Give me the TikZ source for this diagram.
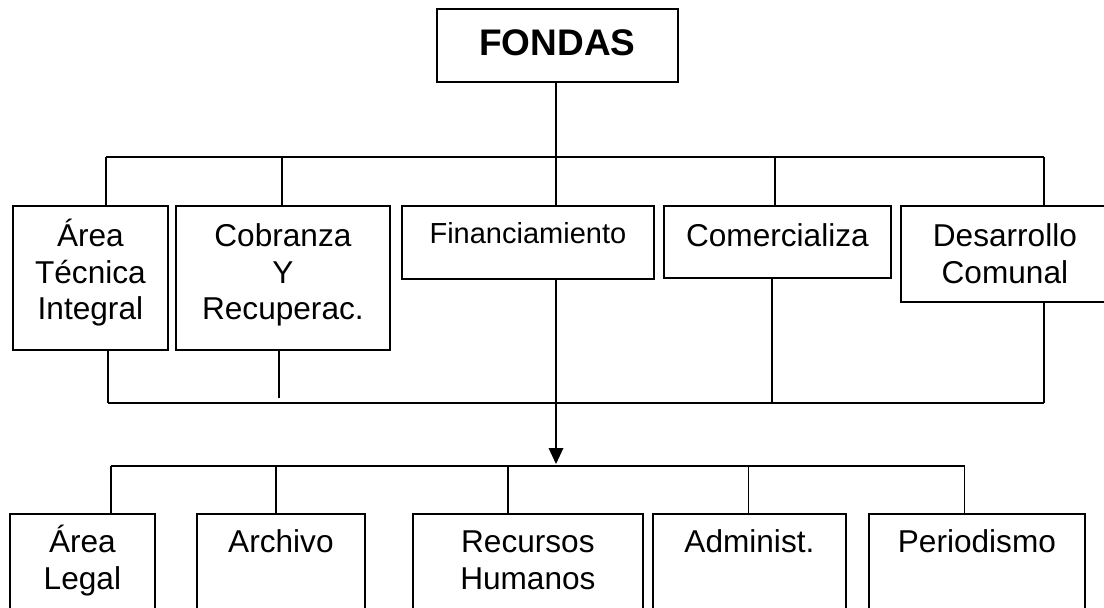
\documentclass[tikz,border=0pt]{standalone}
\usepackage{fontspec}
\setmainfont{Liberation Sans}
\usepackage{tikz}
\tikzset{
  font={\fontsize{31.6pt}{36.3pt}\selectfont}}

\begin{document}
\begin{tikzpicture}[x=1pt,y=-1pt,line width=1.8pt,
  unit/.style={draw, anchor=north west, align=center}]
\tikzstyle{every node}+=[inner sep=0pt]
\useasboundingbox (0,0) rectangle (1104,608);
\clip (0,0) rectangle (1104,608);
% head
\node [unit, font={\fontsize{37pt}{42pt}\selectfont\bfseries}, text width=241pt, text height=47pt, text depth=26pt] (fondas) at (436,8) {FONDAS};
% first row
\node [unit, text width=155pt, text height=41pt, text depth=103pt] (tec) at (12,205) {Área\\Técnica\\Integral};
\node [unit, text width=214pt, text height=41pt, text depth=103pt] (cob) at (175,205) {Cobranza\\Y\\Recuperac.};
\node [unit, font={\fontsize{29pt}{33pt}\selectfont}, text width=252pt, text height=38pt, text depth=35pt] (fin) at (401,205) {Financiamiento};
\node [unit, text width=227pt, text height=41pt, text depth=31pt] (com) at (663,205) {Comercializa};
\node [unit, text width=208pt, text height=41pt, text depth=55pt] (des) at (900,205) {Desarrollo\\Comunal};
% second row
\node [unit, text width=145pt, text height=39pt, text depth=71pt] (leg) at (9,513) {Área\\Legal};
\node [unit, text width=168pt, text height=39pt, text depth=71pt] (arc) at (196,513) {Archivo};
\node [unit, text width=230pt, text height=39pt, text depth=71pt] (rh) at (412,513) {Recursos\\Humanos};
\node [unit, text width=193pt, text height=39pt, text depth=71pt] (adm) at (652,513) {Administ.};
\node [unit, text width=216pt, text height=39pt, text depth=71pt] (per) at (868,513) {Periodismo};
% upper bus
\coordinate (busA) at (106,157);
\coordinate (busB) at (1044,157);
\draw (556,0 |- fondas.south) -- (556,0 |- busA);
\draw (busA) -- (busB);
\foreach \n/\x in {tec/106,cob/282,fin/556,com/775,des/1044}
  \draw (\x,157) -- (\x,157 |- \n.north);
% lower bus
\coordinate (busC) at (108,403);
\coordinate (busD) at (1044,403);
\draw (busC) -- (busD);
\draw (busC |- tec.south) -- (busC);
\draw (279,0 |- cob.south) -- (279,398);
\draw (772,0 |- com.south) -- (772,403);
\draw (busD |- des.south) -- (busD);
\coordinate (tip) at (556,464);
\draw (tip |- fin.south) -- ([yshift=8pt]tip);
\fill [black] (tip) -- ++(-7.5,-16) -- ++(15,0) -- cycle;
% bottom bus
\coordinate (busE) at (111,466);
\coordinate (busF) at (964.5,466);
\draw (busE) -- (busF);
\foreach \n/\x in {leg/111,arc/276,rh/508,adm/748.5,per/964.5}
  \draw (\x,466) -- (\x,466 |- \n.north);
\end{tikzpicture}
\end{document}
